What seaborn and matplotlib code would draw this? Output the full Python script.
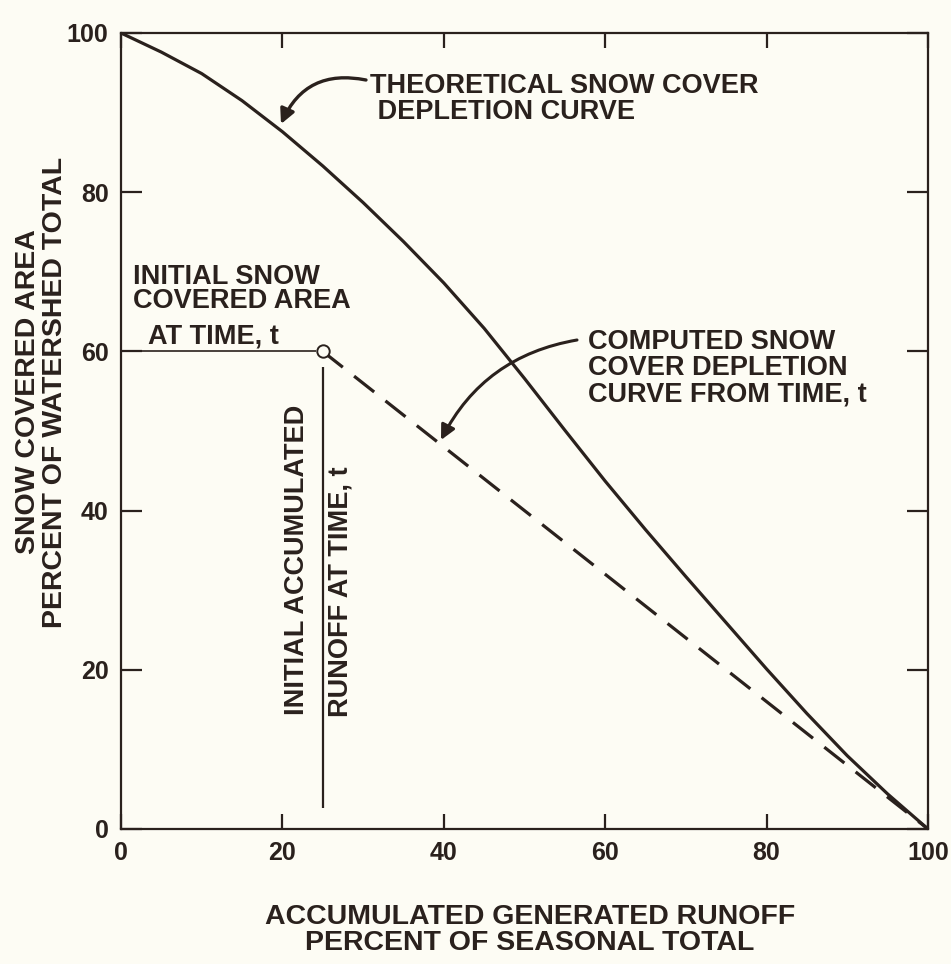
import matplotlib
matplotlib.use("Agg")
import matplotlib.pyplot as plt
import seaborn as sns
import pandas as pd

# ---- data ----
runoff_pct = [0, 5, 10, 15, 20, 25, 30, 35, 40, 45, 50, 55, 60, 65, 70, 75, 80, 85, 90, 95, 100]
theoretical_cover = [100, 97.6, 94.9, 91.5, 87.6, 83.3, 78.7, 73.8, 68.6, 62.9, 56.6,
                     50.1, 43.7, 37.6, 31.7, 25.9, 20.1, 14.5, 9.2, 4.4, 0]
computed_runoff = [25, 100]
computed_cover = [60, 0]
initial_runoff = 25
initial_cover = 60
x_ticks = [0, 20, 40, 60, 80, 100]
y_ticks = [0, 20, 40, 60, 80, 100]

bg = "#fdfcf4"
ink = "#2a211d"

sns.set_theme(style="ticks")
plt.rcParams["font.family"] = ["Liberation Sans", "DejaVu Sans"]
plt.rcParams["font.weight"] = "bold"
plt.rcParams["axes.labelweight"] = "bold"

W, H = 951, 964
fig = plt.figure(figsize=(W / 100, H / 100), dpi=100, facecolor=bg)
L, R, T, B = 121, 928, 33, 829
ax = fig.add_axes([L / W, 1 - B / H, (R - L) / W, (B - T) / H])
ax.set_facecolor(bg)

def px(xp):
    return (xp - L) / (R - L) * 100

def py(yp):
    return (B - yp) / (B - T) * 100

df_theory = pd.DataFrame({"runoff": runoff_pct, "cover": theoretical_cover})
sns.lineplot(data=df_theory, x="runoff", y="cover", ax=ax, color=ink, lw=2.3,
             solid_capstyle="round", solid_joinstyle="round", zorder=3)
df_comp = pd.DataFrame({"runoff": computed_runoff, "cover": computed_cover})
sns.lineplot(data=df_comp, x="runoff", y="cover", ax=ax, color=ink, lw=2.3,
             linestyle=(0, (8, 4.5)), zorder=3)

# reference lines for initial point
ax.hlines(initial_cover, 0, initial_runoff - 0.8, color=ink, lw=1.2, zorder=2)
ax.vlines(initial_runoff, py(808), py(367), color=ink, lw=1.6, zorder=2)
sns.scatterplot(x=[initial_runoff], y=[initial_cover], ax=ax, s=80,
                facecolor=bg, edgecolor=ink, linewidth=1.4, zorder=5)

ax.set_xlim(0, 100)
ax.set_ylim(0, 100)
ax.set_xticks(x_ticks)
ax.set_yticks(y_ticks)
ax.set_xticklabels([str(v) for v in x_ticks], fontsize=18, fontweight="bold", color=ink)
ax.set_yticklabels([str(v) for v in y_ticks], fontsize=18, fontweight="bold", color=ink)
ax.tick_params(axis="x", direction="in", length=11, width=1.6, top=True, colors=ink, pad=9)
ax.tick_params(axis="y", direction="in", length=15, width=1.6, right=True, colors=ink, pad=9)
for s in ax.spines.values():
    s.set_visible(True)
    s.set_color(ink)
    s.set_linewidth(1.6)
ax.set_xlabel("")
ax.set_ylabel("")

# axis titles
fig.text(530 / W, 1 - 930 / H, "ACCUMULATED GENERATED RUNOFF\nPERCENT OF SEASONAL TOTAL",
         ha="center", va="center", multialignment="center", fontsize=20.5,
         fontweight="bold", color=ink, linespacing=1.05)
fig.text(42 / W, 1 - 392 / H, "SNOW COVERED AREA\nPERCENT OF WATERSHED TOTAL",
         ha="center", va="center", multialignment="center", rotation=90, fontsize=20.5,
         fontweight="bold", color=ink, linespacing=1.05)

fs = 19.5
# annotations
ax.text(px(370), py(99), "THEORETICAL SNOW COVER\n DEPLETION CURVE", ha="left", va="center",
        fontsize=fs, fontweight="bold", color=ink, linespacing=1.0)
ax.annotate("", xy=(px(281), py(124)), xytext=(px(366), py(80)),
            arrowprops=dict(arrowstyle="-|>", connectionstyle="arc3,rad=0.4",
                            lw=2.4, color=ink, mutation_scale=22, shrinkA=0, shrinkB=0))

ax.text(px(588), py(368), "COMPUTED SNOW\nCOVER DEPLETION\nCURVE FROM TIME, t", ha="left",
        va="center", fontsize=fs, fontweight="bold", color=ink, linespacing=1.0)
ax.annotate("", xy=(px(441), py(440)), xytext=(px(577), py(340)),
            arrowprops=dict(arrowstyle="-|>", connectionstyle="arc3,rad=0.25",
                            lw=2.2, color=ink, mutation_scale=22, shrinkA=0, shrinkB=0))

ax.text(px(133), py(289), "INITIAL SNOW\nCOVERED AREA", ha="left", va="center",
        fontsize=fs, fontweight="bold", color=ink, linespacing=0.95)
ax.text(px(148), py(337), "AT TIME, t", ha="left", va="center",
        fontsize=fs, fontweight="bold", color=ink)

ax.text(px(297), py(715), "INITIAL ACCUMULATED", rotation=90, rotation_mode="anchor",
        ha="left", va="center", fontsize=fs, fontweight="bold", color=ink)
ax.text(px(340), py(717), "RUNOFF AT TIME, t", rotation=90, rotation_mode="anchor",
        ha="left", va="center", fontsize=fs, fontweight="bold", color=ink)

fig.savefig("out.png", dpi=100, facecolor=bg)
